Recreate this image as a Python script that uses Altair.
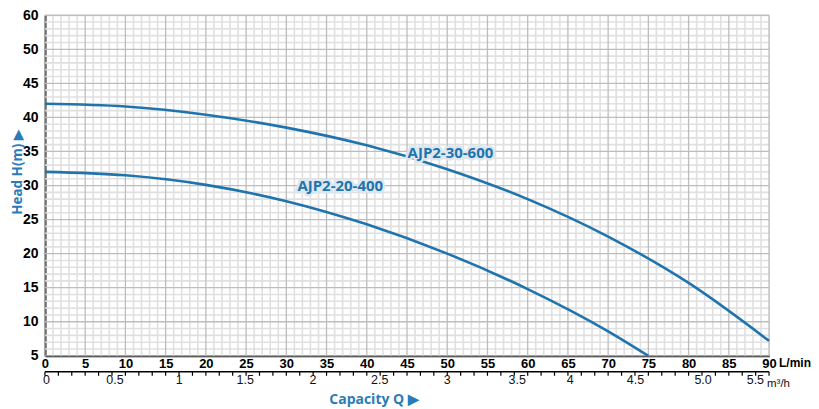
import altair as alt
import pandas as pd

# ---- data ----
q_600 = [0, 10, 20, 30, 40, 50, 60, 70, 80, 90]
h_600 = [42.0, 41.6, 40.4, 38.5, 35.9, 32.4, 28.0, 22.5, 15.7, 7.2]
q_400 = [0, 10, 20, 30, 40, 50, 60, 70, 75]
h_400 = [32.0, 31.5, 30.1, 27.7, 24.3, 20.0, 14.8, 8.6, 5.0]

curve_names = ["AJP2-30-600", "AJP2-20-400"]
label_q = [50.4, 36.7]
label_h = [34.8, 29.9]

x_ticks = list(range(0, 91, 5))
y_ticks = list(range(5, 56, 5))
m3h_labels = ["0", "0.5", "1", "1.5", "2", "2.5", "3", "3.5", "4", "4.5", "5.0", "5.5"]
m3h_label_q = [0.2, 8.7, 16.7, 24.9, 33.3, 41.6, 50.0, 58.7, 65.3, 73.4, 81.8, 88.3]
m3h_minor = [round(i * 0.1, 1) for i in range(0, 55)]

# ---- tables ----
curves = pd.concat([
    pd.DataFrame({"q": q_600, "h": h_600, "pump": curve_names[0]}),
    pd.DataFrame({"q": q_400, "h": h_400, "pump": curve_names[1]}),
])
labels_df = pd.DataFrame({"q": label_q, "h": label_h, "name": curve_names})
gx_minor = pd.DataFrame({"q": [v for v in range(0, 91) if v % 5 != 0]})
gx_major = pd.DataFrame({"q": [v for v in range(0, 91) if v % 5 == 0]})
gy_minor = pd.DataFrame({"h": [v for v in range(5, 56) if v % 5 != 0]})
gy_major = pd.DataFrame({"h": [v for v in range(5, 56) if v % 5 == 0]})
sec_ticks = pd.DataFrame({"q": [v * 1000 / 60 for v in m3h_minor]})
sec_labels = pd.DataFrame({"q": m3h_label_q, "t": m3h_labels})
one_row = pd.DataFrame({"k": [0]})

W, H = 725, 341
BLUE = "#1f74ae"
TITLE_BLUE = "#2a7cb8"

xscale = alt.Scale(domain=[0, 90], nice=False, zero=False)
yscale = alt.Scale(domain=[5, 55], nice=False, zero=False)

xaxis = alt.Axis(
    values=x_ticks, grid=False, ticks=False, domainColor="black", domainWidth=2,
    labelFont="Liberation Sans", labelFontWeight="bold", labelFontSize=13,
    labelColor="black", labelPadding=2, labelFlush=False, labelOverlap=False,
    title="Capacity Q ▶", titleFont="Open Sans", titleFontSize=14,
    titleFontWeight="bold", titleColor=TITLE_BLUE, titlePadding=22, titleX=329,
)
yaxis = alt.Axis(
    values=y_ticks, labelExpr="datum.value == 55 ? '60' : datum.label",
    grid=False, ticks=False, domainColor="black", domainWidth=2,
    labelFont="Liberation Sans", labelFontWeight="bold", labelFontSize=14,
    labelColor="black", labelPadding=7, labelFlush=False, labelOverlap=False,
    title="Head H(m) ▶", titleFont="Open Sans", titleFontSize=13.5,
    titleFontWeight="bold", titleColor=TITLE_BLUE, titlePadding=-2, titleY=157,
)

X = lambda f="q": alt.X(f"{f}:Q", scale=xscale, axis=xaxis)
Y = lambda f="h": alt.Y(f"{f}:Q", scale=yscale, axis=yaxis)

grid_x_minor = alt.Chart(gx_minor).mark_rule(color="#e0e0e0", strokeWidth=1.6).encode(x=X())
grid_y_minor = alt.Chart(gy_minor).mark_rule(color="#e0e0e0", strokeWidth=1.6).encode(y=Y())
grid_x_major = alt.Chart(gx_major).mark_rule(color="#bdbdbd", strokeWidth=1.3).encode(x=X())
grid_y_major = alt.Chart(gy_major).mark_rule(color="#bdbdbd", strokeWidth=1.3).encode(y=Y())

lines = alt.Chart(curves).mark_line(color=BLUE, strokeWidth=2.6, interpolate="monotone").encode(
    x=X(), y=Y(), detail="pump:N"
)

halo = alt.Chart(labels_df).mark_text(
    font="Open Sans", fontWeight="bold", fontSize=15, color="#dde7f0",
    stroke="#dde7f0", strokeWidth=5, strokeJoin="round"
).encode(x=X(), y=Y(), text="name:N")
label_txt = alt.Chart(labels_df).mark_text(
    font="Open Sans", fontWeight="bold", fontSize=15, color=BLUE
).encode(x=X(), y=Y(), text="name:N")

sec_line = alt.Chart(one_row).mark_rule(color="black", strokeWidth=1.5).encode(
    x=alt.X(datum=0, scale=xscale, axis=xaxis), x2=alt.X2(datum=90),
    y=alt.value(H + 16)
)
sec_tick = alt.Chart(sec_ticks).mark_rule(color="black", strokeWidth=1.2).encode(
    x=X(), y=alt.value(H + 16), y2=alt.value(H + 20)
)
sec_lab = alt.Chart(sec_labels).mark_text(
    font="Liberation Sans", fontSize=12.5, color="#111", baseline="middle"
).encode(x=X(), y=alt.value(H + 24), text="t:N")

unit_lmin = alt.Chart(one_row).mark_text(
    text="L/min", font="Liberation Sans", fontWeight="bold", fontSize=12,
    color="black", align="left", baseline="middle", dx=10
).encode(x=alt.X(datum=90, scale=xscale, axis=xaxis), y=alt.value(H + 7))
unit_m3h = alt.Chart(one_row).mark_text(
    text="m³/h", font="Liberation Sans", fontSize=11.5,
    color="#111", align="left", baseline="middle", dx=-2
).encode(x=alt.X(datum=90, scale=xscale, axis=xaxis), y=alt.value(H + 28))

chart = alt.layer(
    grid_x_minor, grid_y_minor, grid_x_major, grid_y_major,
    lines, halo, label_txt, sec_line, sec_tick, sec_lab, unit_lmin, unit_m3h
).properties(
    width=W, height=H, padding={"left": 2, "top": 0, "right": 0, "bottom": 0}
).configure_view(stroke="#555", strokeWidth=1.5).configure(background="white")

chart.save("out.html", embed_options={"renderer": "svg", "actions": False})
